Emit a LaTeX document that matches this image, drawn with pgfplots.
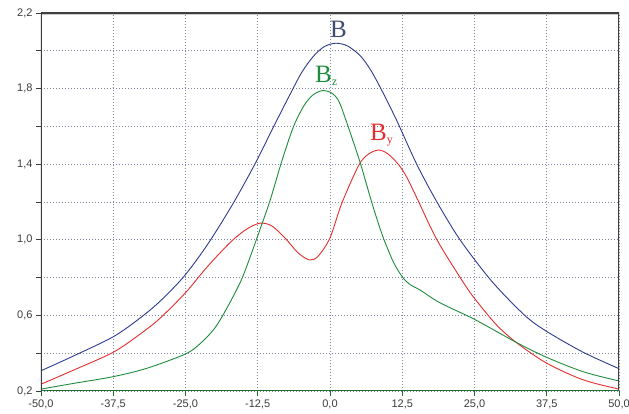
\documentclass[border=0pt]{standalone}
\usepackage{pgfplots}
\pgfplotsset{compat=1.18}
\usepackage{fontspec}
\setmainfont{Liberation Sans}
\newfontfamily\serif{Liberation Serif}
\definecolor{cblue}{RGB}{45,60,145}
\definecolor{cgreen}{RGB}{30,140,60}
\definecolor{cred}{RGB}{228,45,45}
\definecolor{lblue}{RGB}{65,75,115}
\definecolor{axgreen}{RGB}{30,110,50}
\definecolor{gridc}{RGB}{130,135,160}
\definecolor{tickc}{RGB}{60,60,60}
\begin{document}
\begin{tikzpicture}
\begin{axis}[
  scale only axis, width=578pt, height=378pt,
  xmin=-50, xmax=50, ymin=0.2, ymax=2.2,
  axis line style={draw=none},
  xtick={-50,-37.5,-25,-12.5,0,12.5,25,37.5,50},
  ytick={0.2,0.6,1.0,1.4,1.8,2.2},
  minor ytick={0.4,0.8,1.2,1.6,2.0},
  tick pos=left, tick align=outside,
  major tick length=5pt, minor tick length=5pt,
  xtick style={draw=axgreen, line width=0.9pt},
  ytick style={draw=tickc, line width=0.8pt},
  minor tick style={draw=tickc, line width=0.8pt},
  grid=both,
  major grid style={gridc, line width=0.7pt, dash pattern=on 0.7pt off 2.3pt},
  minor grid style={gridc, line width=0.7pt, dash pattern=on 0.7pt off 2.3pt},
  ticklabel style={font=\fontsize{11}{12}\selectfont, text=tickc},
  /pgf/number format/.cd, assume math mode=true, use comma, fixed, fixed zerofill, precision=1,
]
\addplot[cblue, line width=0.9pt, smooth] coordinates {
(-50,0.307) (-44.4,0.385) (-37.5,0.487) (-32.9,0.585) (-29.4,0.675) (-25.3,0.805) (-21.3,0.97) (-17,1.18) (-13,1.40) (-9.9,1.59) (-6.9,1.77) (-4.9,1.885) (-2.9,1.97) (-1,2.022) (1,2.04) (3,2.026) (5.2,1.975) (7,1.9) (8.8,1.8) (11.5,1.634) (15,1.4) (18.5,1.2) (22.5,1.0) (28,0.78) (33.7,0.6) (37.5,0.515) (43.8,0.405) (50,0.318)
};
\addplot[cred, line width=0.9pt, smooth] coordinates {
(-50,0.236) (-44.4,0.31) (-37.5,0.405) (-32.9,0.5) (-29.4,0.585) (-25,0.72) (-21.3,0.855) (-17.3,0.985) (-14.5,1.055) (-12.1,1.088) (-10,1.072) (-7.5,1.0) (-5.5,0.93) (-3.5,0.893) (-2,0.915) (0,1.01) (2,1.19) (4.9,1.39) (6.5,1.45) (8.35,1.475) (10,1.455) (11.8,1.4) (13.3,1.33) (15.2,1.21) (18.5,1.0) (22.8,0.787) (25,0.69) (28.8,0.55) (32.3,0.455) (37.5,0.347) (43.8,0.259) (50,0.21)
};
\addplot[cgreen, line width=0.9pt, smooth] coordinates {
(-50,0.21) (-44.4,0.24) (-37.5,0.276) (-31.7,0.32) (-25,0.396) (-22.5,0.45) (-20,0.53) (-17.9,0.635) (-15.6,0.77) (-14.4,0.86) (-12.4,1.03) (-10.4,1.205) (-8.3,1.42) (-6.3,1.6) (-4.5,1.71) (-3,1.765) (-1.4,1.789) (0.2,1.778) (1.5,1.735) (2.9,1.62) (5.2,1.41) (7.2,1.2) (8.65,1.06) (9.35,1.0) (11,0.88) (12.6,0.8) (14,0.76) (15.6,0.734) (19,0.667) (25,0.579) (32.3,0.456) (37.5,0.378) (43.8,0.302) (50,0.253)
};
% frame
\draw[gray!40, line width=1.2pt] ([xshift=1.5pt,yshift=-1.5pt]rel axis cs:0,1) -- ([xshift=1.5pt,yshift=-1.5pt]rel axis cs:1,1) -- ([xshift=1.5pt,yshift=-1.5pt]rel axis cs:1,0);
\draw[black!75, line width=1.2pt] (rel axis cs:0,1) -- (rel axis cs:1,1) -- (rel axis cs:1,0);
\draw[tickc, line width=1.1pt] (rel axis cs:0,0) -- (rel axis cs:0,1);
\draw[axgreen, line width=1.6pt] (rel axis cs:0,0) -- (rel axis cs:1,0);
% labels
\node[anchor=base west, inner sep=0pt, text=lblue, font=\serif\fontsize{25}{25}\selectfont] at (axis cs:0.0,2.068) {B};
\node[anchor=base west, inner sep=0pt, text=cgreen, font=\serif\fontsize{25}{25}\selectfont] at (axis cs:-2.6,1.83) {B\raisebox{-3pt}{\fontsize{12}{12}\selectfont z}};
\node[anchor=base west, inner sep=0pt, text=cred, font=\serif\fontsize{25}{25}\selectfont] at (axis cs:6.9,1.528) {B\raisebox{-3pt}{\fontsize{12}{12}\selectfont y}};
\node[inner sep=0pt, font=\serif\fontsize{21}{21}\selectfont] at (axis description cs:-0.033,0.907) {μT};
\node[inner sep=0pt, font=\serif\fontsize{24}{24}\selectfont] at (axis description cs:0.941,-0.032) {m};
\coordinate (O) at (rel axis cs:0,0);
\end{axis}
\pgfresetboundingbox
\useasboundingbox (O) ++(-41pt,-23pt) rectangle ++(629pt,414pt);
\end{tikzpicture}
\end{document}
